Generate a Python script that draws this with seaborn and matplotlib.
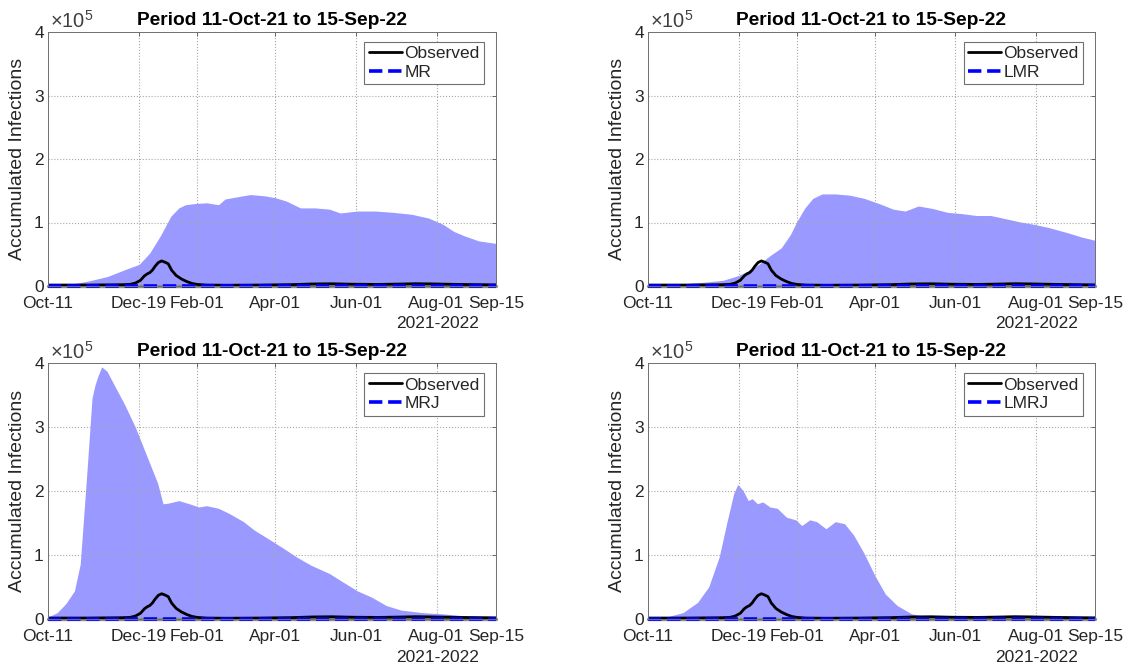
import numpy as np
import pandas as pd
import matplotlib
matplotlib.use("Agg")
import matplotlib.pyplot as plt
import seaborn as sns

# ---------------- data ----------------
start_date = "2021-10-11"
end_date = "2022-09-15"
tick_dates = ["2021-10-11", "2021-12-19", "2022-02-01", "2022-04-01",
              "2022-06-01", "2022-08-01", "2022-09-15"]
tick_labels = ["Oct-11", "Dec-19", "Feb-01", "Apr-01", "Jun-01", "Aug-01", "Sep-15"]
y_ticks = [0, 100000, 200000, 300000, 400000]
y_tick_labels = ["0", "1", "2", "3", "4"]
titles = ["Period 11-Oct-21 to 15-Sep-22"] * 4
model_names = ["MR", "LMR", "MRJ", "LMRJ"]

# observed accumulated infections (days since 11-Oct-21)
obs_days = [0, 30, 55, 62, 66, 70, 73, 75, 77, 79, 81, 83.5, 86, 88.5, 91, 93.5,
            97, 101, 105, 109, 113, 120, 135, 160, 185, 200, 215, 230, 250, 265,
            278, 290, 310, 339]
obs_vals = [1500, 1500, 2000, 2500, 4500, 9000, 16000, 19000, 21000, 25000, 31000,
            37000, 39500, 37500, 35000, 25000, 16500, 11000, 7000, 4000, 2500, 1500,
            1200, 1500, 2200, 3200, 3500, 2800, 2500, 3000, 3600, 3300, 2500, 1800]

# model predictions (flat at zero)
pred_days = [0, 339]
pred_vals = [0, 0]

# lower bounds of the bands
low_days = [0, 339]
low_vals = [0, 0]

# upper bounds of the bands
mr_days = [0, 18, 31, 45, 61, 69, 77, 85, 93, 99, 104, 112, 120, 129, 134, 142, 153,
           164, 172, 180, 191, 202, 213, 221, 234, 248, 261, 275, 288, 299, 307, 315,
           326, 339]
mr_upper = [1000, 3000, 8000, 15000, 28000, 34000, 52000, 79000, 110000, 123000,
            128000, 130000, 131000, 128000, 137000, 140000, 144000, 142000, 139000,
            134000, 123000, 123000, 121000, 115000, 118000, 118000, 116000, 113000,
            107000, 97000, 86000, 79000, 71000, 67000]

lmr_days = [0, 16, 29, 43, 57, 68, 76, 84, 92, 101, 108, 113, 119, 125, 132, 142, 153,
            164, 175, 186, 195, 205, 216, 227, 238, 249, 260, 271, 282, 293, 304, 318,
            329, 339]
lmr_upper = [1000, 3000, 4000, 6000, 9000, 16000, 24000, 34000, 47000, 60000, 81000,
             102000, 123000, 138000, 145000, 145000, 143000, 138000, 130000, 121000,
             118000, 126000, 122000, 116000, 114000, 111000, 111000, 106000, 101000,
             97000, 92000, 84000, 77000, 72000]

mrj_days = [0, 7, 13.5, 20, 24.4, 27, 29.8, 33.3, 35.5, 37.5, 40.6, 44.7, 50, 58, 66,
            72, 77, 83, 87, 91, 99, 107, 114, 120, 129, 137, 148, 156, 167, 177, 188,
            199, 213, 223, 234, 245, 256, 267, 283, 299, 315, 339]
mrj_upper = [3000, 10000, 24000, 44000, 86000, 160000, 240000, 345000, 365000, 378000,
             394000, 387000, 366000, 335000, 300000, 269000, 243000, 212000, 180000,
             181000, 185000, 180000, 175000, 177000, 173000, 165000, 152000, 139000,
             125000, 112000, 97000, 84000, 71000, 58000, 44000, 34000, 21000, 14000,
             10000, 8000, 5000, 4000]

lmrj_days = [0, 15.6, 26.6, 37.6, 46, 54, 59.6, 65, 68, 72, 76, 79, 83, 87, 92.5, 98,
             105, 112, 116.6, 122.7, 128, 135, 142, 149, 156, 164, 172, 180, 189, 200,
             208, 235, 263, 290, 318, 339]
lmrj_upper = [1000, 4000, 10000, 26000, 50000, 97000, 149000, 196000, 210000, 201000,
              185000, 188000, 180000, 183000, 175000, 173000, 159000, 155000, 146000,
              155000, 152000, 141000, 152000, 149000, 131000, 102000, 68000, 39000,
              21000, 8000, 5000, 4000, 4000, 4000, 3000, 2000]

band_days = [mr_days, lmr_days, mrj_days, lmrj_days]
band_upper = [mr_upper, lmr_upper, mrj_upper, lmrj_upper]

# ---------------- style ----------------
sns.set_style("white")
plt.rcParams["font.family"] = ["Liberation Sans", "DejaVu Sans"]
plt.rcParams["mathtext.default"] = "regular"

start = pd.Timestamp(start_date)


def to_dates(days):
    return start + pd.to_timedelta(np.asarray(days, dtype=float), unit="D")


TXT = "#262626"
fig = plt.figure(figsize=(11.28, 6.66), dpi=100)
positions = [
    [48 / 1128, 380 / 666, 448 / 1128, 254 / 666],
    [648 / 1128, 380 / 666, 447 / 1128, 254 / 666],
    [48 / 1128, 47 / 666, 448 / 1128, 256 / 666],
    [648 / 1128, 47 / 666, 447 / 1128, 256 / 666],
]

for i, pos in enumerate(positions):
    ax = fig.add_axes(pos)
    ax.fill_between(to_dates(band_days[i]), 0, band_upper[i], color="#9999FF",
                    lw=0, zorder=1)
    ax.plot(to_dates(low_days), low_vals, color="#8c8c8c", lw=2.4, zorder=2,
            clip_on=False)
    sns.lineplot(x=to_dates(obs_days), y=obs_vals, ax=ax, color="black", lw=2,
                 zorder=3, label="Observed")
    sns.lineplot(x=to_dates(pred_days), y=pred_vals, ax=ax, color="blue", lw=2.6,
                 linestyle="--", zorder=4, clip_on=False, label=model_names[i])

    ax.set_xlim(pd.Timestamp(start_date), pd.Timestamp(end_date))
    ax.set_ylim(0, 400000)
    ax.set_xticks(pd.to_datetime(tick_dates))
    ax.set_xticklabels(tick_labels)
    ax.set_yticks(y_ticks)
    ax.set_yticklabels(y_tick_labels)
    ax.grid(True, linestyle=":", color="#a8a8a8", lw=0.8)
    ax.set_axisbelow(False)
    for sp in ax.spines.values():
        sp.set_color("#707070")
        sp.set_linewidth(0.7)
        sp.set_zorder(5)
    ax.tick_params(which="both", direction="in", top=True, right=True, length=3,
                   width=0.6, color="#505050", labelcolor=TXT, labelsize=12.5)
    ax.tick_params(axis="x", pad=7)
    ax.tick_params(axis="y", pad=3)

    ax.set_title(titles[i], fontsize=13.8, fontweight="bold", pad=5, color="black")
    ax.set_ylabel("Accumulated Infections", fontsize=14, color=TXT, labelpad=6)
    ax.set_xlabel("")
    ax.annotate("2021-2022", xy=(1, 0), xycoords="axes fraction",
                xytext=(-17 * 0.72, -30.5 * 0.72), textcoords="offset points",
                ha="right", va="top", fontsize=12.5, color=TXT)
    ax.annotate(r"$\times10^{5}$", xy=(0, 1), xycoords="axes fraction",
                xytext=(1.5, 2.8), textcoords="offset points",
                ha="left", va="baseline", fontsize=14.5, color="#404040")

    h, l = ax.get_legend_handles_labels()
    order = [l.index("Observed"), l.index(model_names[i])]
    leg = ax.legend([h[k] for k in order], [l[k] for k in order],
                    loc="upper right",
                    bbox_to_anchor=(1 - 12 / 448, 1 - 10 / 254),
                    borderaxespad=0, fontsize=12.5, frameon=True, fancybox=False,
                    framealpha=1, edgecolor="#707070", handlelength=1.9,
                    handletextpad=0.15, labelspacing=0.2, borderpad=0.25)
    leg.get_frame().set_linewidth(0.8)
    for t in leg.get_texts():
        t.set_color(TXT)

fig.savefig("out.png", dpi=100)
